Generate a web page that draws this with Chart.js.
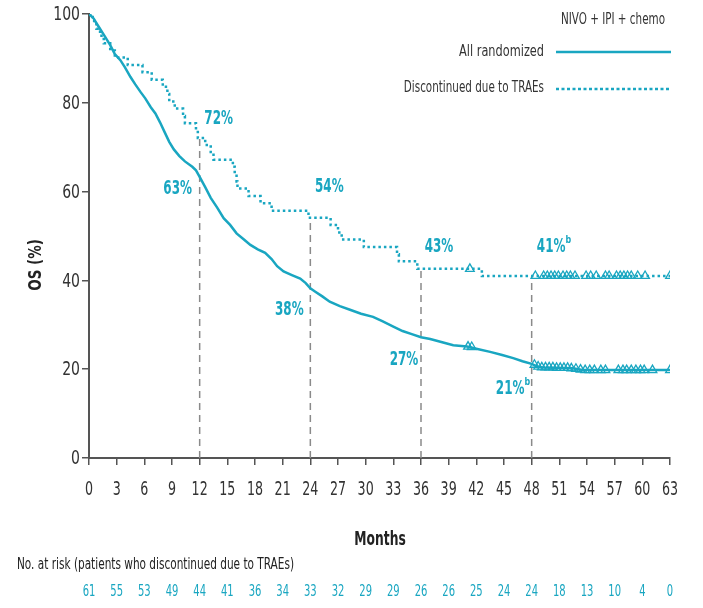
<!DOCTYPE html>
<html>
<head>
<meta charset="utf-8">
<script src="https://cdn.jsdelivr.net/npm/chart.js@4.4.0/dist/chart.umd.min.js"></script>
<style>
  html, body { margin: 0; padding: 0; background: #fff; }
  #wrap { width: 703px; height: 608px; }
</style>
</head>
<body>
<div id="wrap"><canvas id="osChart" width="703" height="608"></canvas></div>
<script>
const TEAL = '#19a6c1';
const FONT = "'DejaVu Sans Condensed', 'DejaVu Sans', sans-serif";

// month ticks and patients at risk (discontinued due to TRAEs)
const monthTicks = [0, 3, 6, 9, 12, 15, 18, 21, 24, 27, 30, 33, 36, 39, 42, 45, 48, 51, 54, 57, 60, 63];
const atRisk = [61, 55, 53, 49, 44, 41, 36, 34, 33, 32, 29, 29, 26, 26, 25, 24, 24, 18, 13, 10, 4, 0];

// all randomized: [month, OS %]
const allRandomized = [
  [0, 100], [0.5, 99], [1, 97.3], [1.7, 95], [2.3, 93], [2.8, 91], [3.4, 89.6], [3.9, 88],
  [4.5, 85.8], [5, 84.2], [5.6, 82.4], [6.1, 81], [6.7, 79], [7.2, 77.6], [7.7, 75.6],
  [8.2, 73.4], [8.7, 71.2], [9.2, 69.5], [9.8, 68], [10.4, 66.8], [11.2, 65.6], [11.6, 64.8],
  [12, 63.3], [12.6, 61], [13.2, 58.6], [13.9, 56.4], [14.6, 54], [15.3, 52.5], [16, 50.6],
  [16.8, 49.2], [17.5, 48], [18.3, 47], [19.1, 46.2], [19.8, 44.8], [20.4, 43.2], [21.1, 42],
  [22, 41.2], [22.9, 40.4], [23.5, 39.4], [24, 38.2], [24.5, 37.5], [25.3, 36.4], [26.1, 35.2],
  [27.2, 34.2], [28.3, 33.4], [29.5, 32.5], [30.8, 31.8], [31.8, 30.8], [33, 29.6], [34, 28.6],
  [35, 27.9], [36, 27.2], [37, 26.8], [38.4, 26], [39.5, 25.4], [41, 25.1], [42, 24.6],
  [43.5, 23.9], [44.8, 23.2], [46, 22.5], [47, 21.8], [48, 21.2], [48.6, 20.6], [49.2, 20.4],
  [52.5, 20.2], [53.5, 19.8], [63, 19.8]
];
const allRandomizedCensored = [
  [41.1, 25.1], [41.5, 25.0], [48.3, 21.0], [48.7, 20.6], [49.1, 20.4], [49.5, 20.4], [49.9, 20.4],
  [50.3, 20.4], [50.7, 20.3], [51.1, 20.3], [51.5, 20.3], [51.9, 20.3], [52.3, 20.2], [52.8, 20.1],
  [53.3, 19.9], [53.8, 19.8], [54.3, 19.8], [54.8, 19.8], [55.5, 19.8], [56.0, 19.8], [57.4, 19.8],
  [57.9, 19.8], [58.3, 19.8], [58.8, 19.8], [59.3, 19.8], [59.8, 19.8], [60.2, 19.8], [61.1, 19.8],
  [63.0, 19.8]
];

// discontinued due to TRAEs: KM steps [month, OS %]
const discontinued = [
  [0, 100], [0.4, 98.4], [0.8, 96.7], [1.2, 95.1], [1.6, 93.4], [2.3, 91.8], [2.8, 90.2],
  [4.2, 88.5], [5.8, 86.9], [6.8, 85.2], [8.0, 83.6], [8.5, 82.0], [8.7, 80.3], [9.3, 78.7],
  [10.2, 77.0], [10.4, 75.4], [11.6, 73.8], [11.8, 72.1], [12.6, 70.5], [13.2, 68.9],
  [13.5, 67.2], [15.6, 65.6], [15.8, 63.9], [16.0, 62.3], [16.1, 60.7], [17.3, 59.0],
  [18.6, 57.4], [19.8, 55.7], [23.8, 54.1], [26.2, 52.5], [27.0, 50.8], [27.4, 49.2],
  [29.8, 47.5], [33.4, 45.9], [33.6, 44.3], [35.6, 42.6], [42.6, 41.0], [63, 41.0]
];
const discontinuedCensored = [
  [41.3, 42.6], [48.4, 41.0], [49.3, 41.0], [49.7, 41.0], [50.1, 41.0], [50.5, 41.0], [50.9, 41.0],
  [51.4, 41.0], [51.8, 41.0], [52.2, 41.0], [52.7, 41.0], [53.9, 41.0], [54.4, 41.0], [55.0, 41.0],
  [56.0, 41.0], [56.4, 41.0], [57.2, 41.0], [57.6, 41.0], [58.0, 41.0], [58.4, 41.0], [58.8, 41.0],
  [59.5, 41.0], [60.3, 41.0], [63.0, 41.0]
];

// landmark reference lines and their labels
const landmarkMonths = [12, 24, 36, 48];
const landmarkTops = [72, 54, 43, 41];
const landmarkLabels = [
  { x: 12, y: 72, text: '72%', sup: '', dx: 19, dy: -19 },
  { x: 12, y: 63.3, text: '63%', sup: '', dx: -22, dy: 12 },
  { x: 24, y: 54, text: '54%', sup: '', dx: 19, dy: -31 },
  { x: 24, y: 38.2, text: '38%', sup: '', dx: -21, dy: 22 },
  { x: 36, y: 42.6, text: '43%', sup: '', dx: 18, dy: -22 },
  { x: 36, y: 27.2, text: '27%', sup: '', dx: -17, dy: 23 },
  { x: 48, y: 41, text: '41%', sup: 'b', dx: 22, dy: -29 },
  { x: 48, y: 21.2, text: '21%', sup: 'b', dx: -19, dy: 25 }
];

const toXY = arr => arr.map(p => ({ x: p[0], y: p[1] }));

const refLineSets = landmarkMonths.map((m, i) => ({
  data: [{ x: m, y: 0 }, { x: m, y: landmarkTops[i] }],
  borderColor: '#8a8a8a',
  borderWidth: 1.5,
  borderDash: [7, 5],
  pointRadius: 0,
  order: 5
}));

// the figure uses a narrow typeface, so text is squeezed horizontally
function narrowText(ctx, text, x, y, font, align, squeeze, color) {
  ctx.save();
  ctx.font = font;
  ctx.fillStyle = color;
  ctx.textAlign = align;
  ctx.textBaseline = 'middle';
  ctx.translate(x, y);
  ctx.scale(squeeze, 1);
  ctx.fillText(text, 0, 0);
  ctx.restore();
}

// tick labels, legend, axis titles, risk table, landmark labels
const annotations = {
  id: 'annotations',
  afterDraw(chart) {
    const ctx = chart.ctx;
    const xs = chart.scales.x;
    const ys = chart.scales.y;

    // tick labels
    ys.ticks.forEach(t => {
      narrowText(ctx, String(t.value), 80, ys.getPixelForValue(t.value) + 1,
        '20px ' + FONT, 'right', 0.78, '#333');
    });
    xs.ticks.forEach(t => {
      narrowText(ctx, String(t.value), xs.getPixelForValue(t.value), 490,
        '19px ' + FONT, 'center', 0.74, '#333');
    });

    // landmark percentages
    landmarkLabels.forEach(l => {
      const px = xs.getPixelForValue(l.x) + l.dx;
      const py = ys.getPixelForValue(l.y) + l.dy;
      const sq = 0.7;
      ctx.font = 'bold 19px ' + FONT;
      const w = ctx.measureText(l.text).width * sq;
      const sw = l.sup ? 5 : 0;
      const left = px - (w + sw) / 2;
      narrowText(ctx, l.text, left, py, 'bold 19px ' + FONT, 'left', sq, TEAL);
      if (l.sup) {
        narrowText(ctx, l.sup, left + w, py - 7, 'bold 11px ' + FONT, 'left', 0.8, TEAL);
      }
    });

    // legend
    narrowText(ctx, 'NIVO + IPI + chemo', 613, 20, '15px ' + FONT, 'center', 0.77, '#333');
    narrowText(ctx, 'All randomized', 544, 52, '15px ' + FONT, 'right', 0.84, '#333');
    narrowText(ctx, 'Discontinued due to TRAEs', 544, 88, '15px ' + FONT, 'right', 0.77, '#333');
    ctx.save();
    ctx.strokeStyle = TEAL;
    ctx.lineWidth = 2.5;
    ctx.beginPath();
    ctx.moveTo(556, 52);
    ctx.lineTo(671, 52);
    ctx.stroke();
    ctx.setLineDash([3, 2.5]);
    ctx.beginPath();
    ctx.moveTo(556, 89);
    ctx.lineTo(671, 89);
    ctx.stroke();
    ctx.restore();

    // y axis title
    ctx.save();
    ctx.translate(37, 265);
    ctx.rotate(-Math.PI / 2);
    narrowText(ctx, 'OS (%)', 0, 0, 'bold 17px ' + FONT, 'center', 0.88, '#222');
    ctx.restore();

    // x axis title
    narrowText(ctx, 'Months', 380, 540, 'bold 19px ' + FONT, 'center', 0.72, '#222');

    // number at risk
    narrowText(ctx, 'No. at risk (patients who discontinued due to TRAEs)', 17, 565,
      '15px ' + FONT, 'left', 0.78, '#222');
    monthTicks.forEach((m, i) => {
      narrowText(ctx, String(atRisk[i]), xs.getPixelForValue(m), 592,
        '15px ' + FONT, 'center', 0.74, TEAL);
    });
  }
};

new Chart(document.getElementById('osChart'), {
  type: 'line',
  data: {
    datasets: [
      ...refLineSets,
      {
        data: toXY(allRandomized),
        borderColor: TEAL,
        borderWidth: 2.5,
        pointRadius: 0,
        order: 2
      },
      {
        data: toXY(discontinued),
        borderColor: TEAL,
        borderWidth: 2.5,
        borderDash: [2.5, 3],
        stepped: true,
        pointRadius: 0,
        order: 2
      },
      {
        data: toXY(allRandomizedCensored),
        showLine: false,
        pointStyle: 'triangle',
        pointRadius: 5,
        pointBorderWidth: 1.3,
        pointBorderColor: TEAL,
        pointBackgroundColor: 'rgba(255,255,255,0)',
        order: 1
      },
      {
        data: toXY(discontinuedCensored),
        showLine: false,
        pointStyle: 'triangle',
        pointRadius: 5,
        pointBorderWidth: 1.3,
        pointBorderColor: TEAL,
        pointBackgroundColor: 'rgba(255,255,255,0)',
        order: 1
      }
    ]
  },
  options: {
    responsive: false,
    animation: false,
    layout: { padding: { left: 0, top: 14, right: 33, bottom: 0 } },
    plugins: {
      legend: { display: false },
      tooltip: { enabled: false }
    },
    scales: {
      x: {
        type: 'linear',
        min: 0,
        max: 63,
        afterFit: s => { s.height = 150; },
        border: { display: true, color: '#555', width: 2 },
        grid: { drawOnChartArea: false, drawTicks: true, tickLength: 7, color: '#555', lineWidth: 1.5 },
        ticks: { stepSize: 3, autoSkip: false, display: false }
      },
      y: {
        min: 0,
        max: 100,
        afterFit: s => { s.width = 89; },
        border: { display: true, color: '#555', width: 2 },
        grid: { drawOnChartArea: false, drawTicks: true, tickLength: 7, color: '#555', lineWidth: 1.5 },
        ticks: { stepSize: 20, display: false }
      }
    }
  },
  plugins: [annotations]
});
</script>
</body>
</html>
